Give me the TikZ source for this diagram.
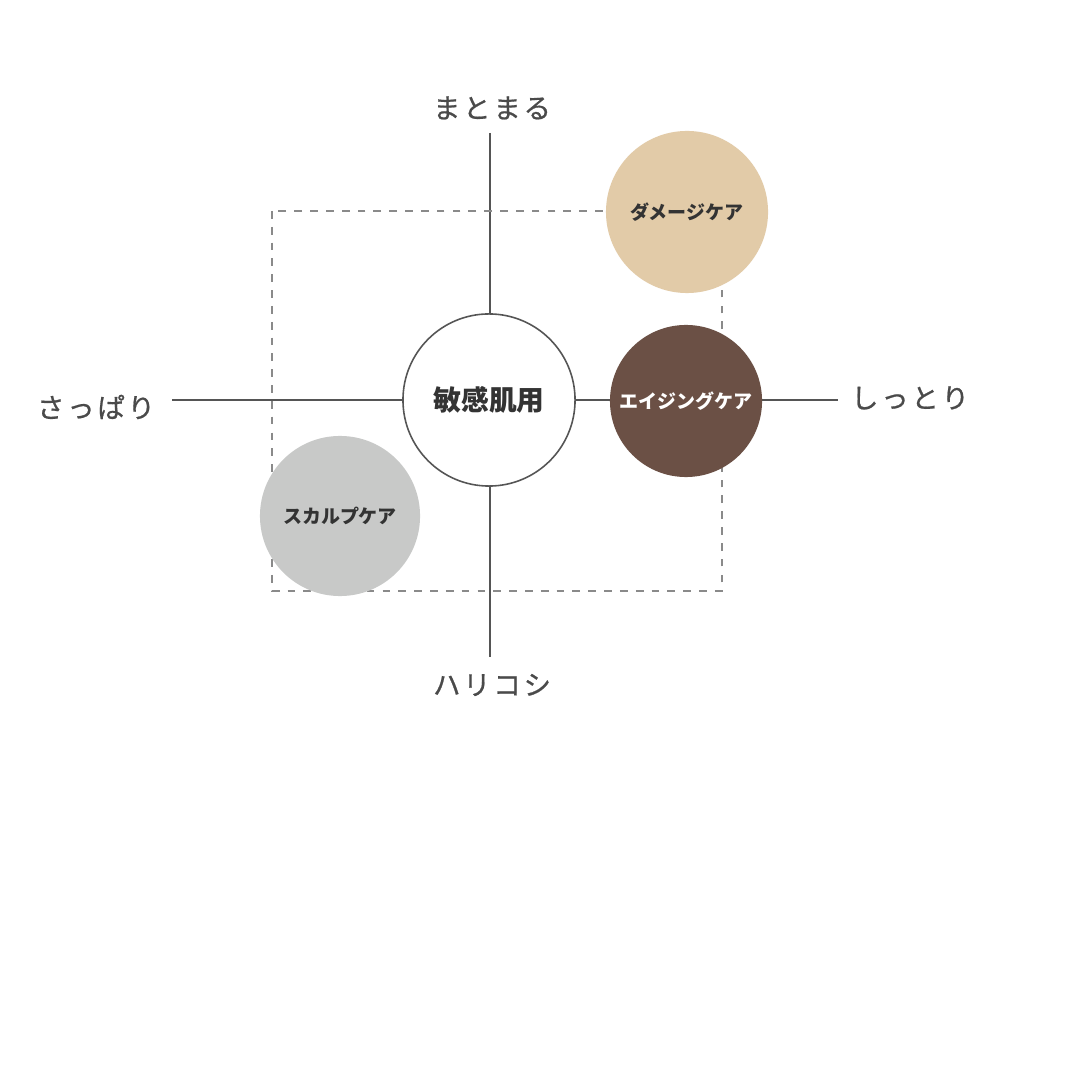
\documentclass[tikz,border=0pt]{standalone}
\usepackage{fontspec}
\newfontfamily\jpfont{Noto Sans CJK JP}
\newfontfamily\jpaxis[LetterSpace=10,FakeBold=0.7]{Noto Sans CJK JP}
\usetikzlibrary{positioning}

\definecolor{axisgray}{HTML}{555555}
\definecolor{labelgray}{HTML}{4A4A4A}
\definecolor{framegray}{HTML}{8A8A8A}
\definecolor{inkdark}{HTML}{333333}
\definecolor{damagebeige}{HTML}{E2CBA8}
\definecolor{agingbrown}{HTML}{6B5045}
\definecolor{scalpgray}{HTML}{C8C9C8}

\tikzset{
  axislabel/.style={text=labelgray,font=\jpaxis\fontsize{7.8pt}{9pt}\selectfont,inner sep=1pt},
  carecircle/.style={circle,minimum size=#1,inner sep=0pt,font=\jpfont\bfseries\fontsize{5.4pt}{6pt}\selectfont},
}

\begin{document}
\begin{tikzpicture}[x=0.01cm,y=-0.01cm]
            \useasboundingbox[fill=white] (0,0) rectangle (1080,1080);
            % axes
            \coordinate (top) at (490,133);
            \coordinate (bottom) at (490,657);
            \coordinate (left) at (172,400);
            \coordinate (right) at (838,400);
            \draw[axisgray,line width=0.45pt] (top) -- (bottom);
            \draw[axisgray,line width=0.45pt] (left) -- (right);
            \node[axislabel] (matomaru) at (492,108) {まとまる};
            \node[axislabel] (harikoshi) at (492,685) {ハリコシ};
            \node[axislabel] (sappari) at (96,407) {さっぱり};
            \node[axislabel] (shittori) at (910,398) {しっとり};
            % dashed frame
            \draw[framegray,line width=0.4pt,dash pattern=on 2.2pt off 2.3pt] (272,211) rectangle (722,591);
            % circles
            \node[circle,draw=axisgray,fill=white,line width=0.45pt,minimum size=1.72cm,inner sep=0pt,text=inkdark,font=\jpfont\bfseries\fontsize{7.9pt}{9pt}\selectfont] (center) at (489,400) {敏感肌用};
            \node[carecircle=1.62cm,fill=damagebeige,text=inkdark] (damage) at (687,212) {ダメージケア};
            \node[carecircle=1.52cm,fill=agingbrown,text=white] (aging) at (686,401) {エイジングケア};
            \node[carecircle=1.6cm,fill=scalpgray,text=inkdark] (scalp) at (340,516) {スカルプケア};
        \end{tikzpicture}
\end{document}
